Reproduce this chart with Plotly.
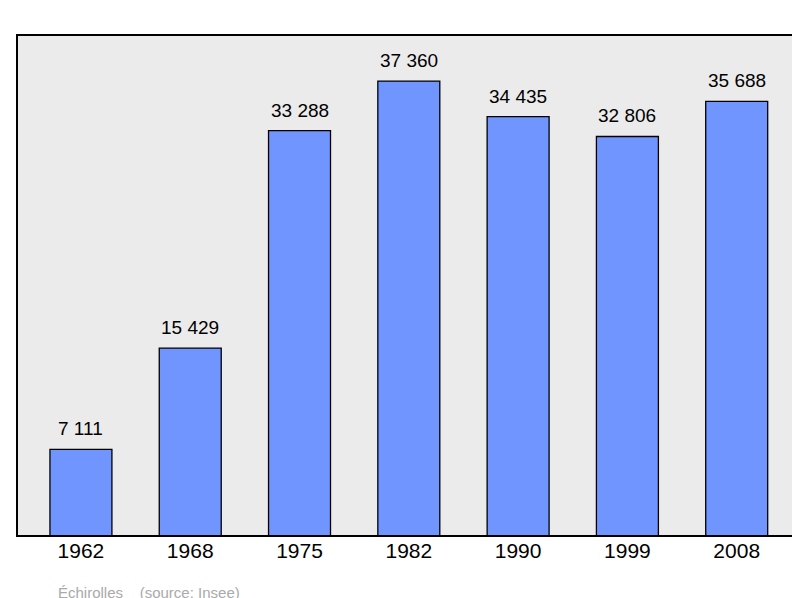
import plotly.graph_objs as go

# Population data
years = ["1962", "1968", "1975", "1982", "1990", "1999", "2008"]
population = [7111, 15429, 33288, 37360, 34435, 32806, 35688]
value_labels = ["7 111", "15 429", "33 288", "37 360", "34 435", "32 806", "35 688"]

fig = go.Figure()

fig.add_trace(go.Bar(
    x=list(range(len(years))), y=population,
    marker=dict(color='#7095ff', line=dict(color='black', width=1.3)),
    width=0.567,
))

# Value labels above the bars
annotations = [dict(x=i, y=v, text=t, xref='x', yref='y', showarrow=False,
                    yanchor='bottom', yshift=8,
                    font=dict(family='Liberation Sans, Arial', size=19, color='black'))
               for i, (v, t) in enumerate(zip(population, value_labels))]
annotations.append(dict(text='Échirolles    (source: Insee)', xref='paper', yref='paper',
                        x=0.05, y=-0.112, xanchor='left', yanchor='middle', showarrow=False,
                        font=dict(family='Liberation Sans, Arial', size=15, color='#aaaaaa')))

fig.update_layout(
    width=800, height=598,
    margin=dict(l=9, r=9, t=27, b=70, autoexpand=False),
    paper_bgcolor='white',
    plot_bgcolor='#ebebeb',
    showlegend=False,
    xaxis=dict(
        range=[-0.585, 6.57], tickvals=list(range(len(years))), ticktext=years,
        showgrid=False, zeroline=False, showline=False, automargin=False,
        tickfont=dict(family='Liberation Sans, Arial', size=21, color='black'),
        ticklen=8, tickcolor='rgba(0,0,0,0)',
    ),
    yaxis=dict(range=[0, 41140], visible=False, showgrid=False, automargin=False),
    shapes=[dict(type='rect', xref='paper', yref='paper', x0=0, x1=1, y0=0, y1=1,
                 line=dict(color='black', width=2))],
    annotations=annotations,
)

fig.write_html("out.html")
